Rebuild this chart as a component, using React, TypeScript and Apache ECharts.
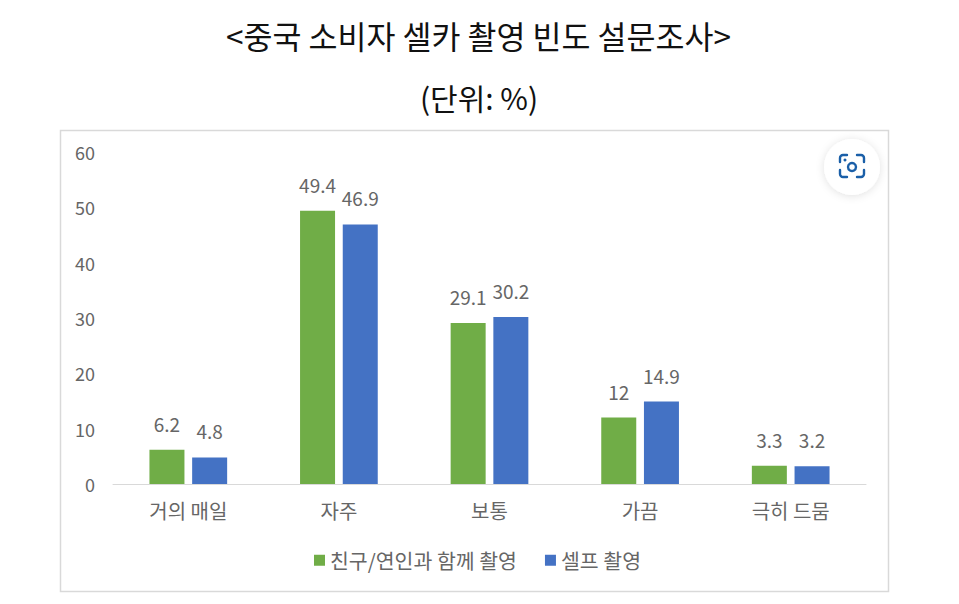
import React, { useEffect, useRef } from "react";
import * as echarts from "echarts";

const categories = ["거의 매일", "자주", "보통", "가끔", "극히 드뭄"];
const friendsValues = [6.2, 49.4, 29.1, 12, 3.3];
const selfValues = [4.8, 46.9, 30.2, 14.9, 3.2];
const seriesNames = ["친구/연인과 함께 촬영", "셀프 촬영"];
const titleText = "<중국 소비자 셀카 촬영 빈도 설문조사>";
const unitText = "(단위: %)";

const FONT = '"Noto Sans CJK KR", "Noto Sans", sans-serif';

echarts.graphic.registerShape(
  "lensFrame",
  echarts.graphic.extendPath(
    "M2 9V5a3 3 0 0 1 3-3h4 M19 2h4a3 3 0 0 1 3 3v4 M26 17v4a3 3 0 0 1-3 3h-4 M9 24H5a3 3 0 0 1-3-3v-4",
    {}
  )
);

export default function App() {
  const ref = useRef<HTMLDivElement>(null);
  useEffect(() => {
    const chart = echarts.init(ref.current!, null, { renderer: "svg" });
    const labelStyle = { show: true, position: "top" as const, distance: 17, color: "#666666", fontSize: 19, fontFamily: FONT };
    chart.setOption({
      animation: false,
      backgroundColor: "#ffffff",
      title: [
        { text: titleText, left: 473.5, top: 14, textAlign: "center", textStyle: { color: "#111111", fontSize: 31.5, fontWeight: "normal", fontFamily: FONT } },
        { text: unitText, left: 474, top: 77, textAlign: "center", textStyle: { color: "#111111", fontSize: 30, fontWeight: "normal", fontFamily: FONT } },
      ],
      grid: { left: 113, right: 93, top: 152, bottom: 120, containLabel: false },
      legend: {
        left: 309,
        top: 545,
        itemWidth: 11,
        itemHeight: 11,
        itemGap: 28,
        icon: "rect",
        textStyle: { color: "#666666", fontSize: 20.5, fontFamily: FONT },
      },
      xAxis: {
        type: "category",
        data: categories,
        axisTick: { show: false },
        axisLine: { lineStyle: { color: "#d9d9d9", width: 1 } },
        axisLabel: { color: "#666666", fontSize: 20, fontFamily: FONT, margin: 16 },
      },
      yAxis: {
        type: "value",
        min: 0,
        max: 60,
        interval: 10,
        splitLine: { show: false },
        axisLine: { show: false },
        axisTick: { show: false },
        axisLabel: { color: "#666666", fontSize: 18, fontFamily: FONT, margin: 18, padding: [0, 0, 4, 0] },
      },
      series: [
        { name: seriesNames[0], type: "bar", data: friendsValues, barWidth: 35, barGap: "22%", itemStyle: { color: "#70ad47" }, label: labelStyle },
        { name: seriesNames[1], type: "bar", data: selfValues, barWidth: 35, itemStyle: { color: "#4472c4" }, label: labelStyle },
      ],
      graphic: [
        { type: "rect", z: -1, shape: { x: 60.5, y: 130.5, width: 828, height: 461 }, style: { fill: "#ffffff", stroke: "#d9d9d9", lineWidth: 1.5 } },
        { type: "circle", z: 10, shape: { cx: 852, cy: 167, r: 28 }, style: { fill: "#ffffff", shadowBlur: 8, shadowColor: "rgba(0,0,0,0.12)", shadowOffsetY: 1 } },
        { type: "lensFrame", z: 11, x: 838, y: 153, style: { fill: "none", stroke: "#1a5fa8", lineWidth: 2.4, lineCap: "round" } },
        { type: "circle", z: 11, shape: { cx: 852, cy: 167, r: 4 }, style: { fill: "none", stroke: "#1a5fa8", lineWidth: 2.4 } },
        { type: "circle", z: 11, shape: { cx: 845, cy: 160, r: 1.5 }, style: { fill: "#1a5fa8" } },
      ],
    });
    return () => chart.dispose();
  }, []);
  return <div ref={ref} style={{ position: "absolute", left: 0, top: 0, width: 959, height: 604 }} />;
}
